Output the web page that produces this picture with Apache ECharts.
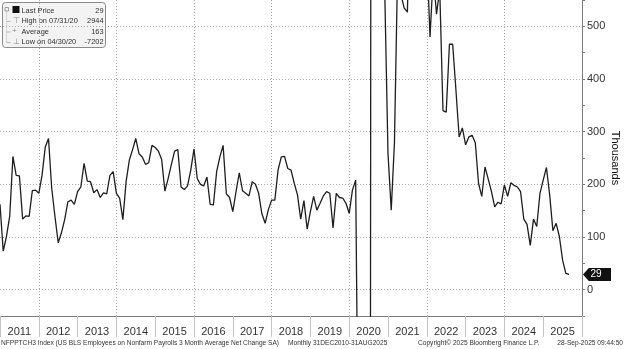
<!DOCTYPE html>
<html><head><meta charset="utf-8">
<script src="https://cdn.jsdelivr.net/npm/echarts@6/dist/echarts.min.js"></script>
<style>html,body{margin:0;padding:0;background:#fff}#c{width:624px;height:349px}</style>
</head><body><div id="c"></div>
<script>
// ---- Data: NFPPTCH3 monthly, 3-month average net change (thousands), Dec 2010 .. Aug 2025
const y2010 = [162]; // Dec 2010
const y2011 = [73,101,139,253,217,216,134,140,139,188,189,183];
const y2012 = [217,271,287,192,139,89,108,133,167,170,162,186];
const y2013 = [195,240,206,205,184,190,175,184,182,217,224,183];
const y2014 = [174,133,205,246,266,287,258,252,238,241,274,270];
const y2015 = [263,247,187,211,238,263,266,195,190,197,227,267];
const y2016 = [211,200,197,214,162,161,224,252,274,182,175,148];
const y2017 = [186,222,188,183,178,205,200,183,144,126,152,170];
const y2018 = [170,227,252,253,230,227,202,180,134,169,115,148];
const y2019 = [177,151,164,178,186,183,117,183,175,174,164,145];
const y2020 = [189,208,-450,-7202,-6300,-4300,2944,2600,1400,950,565,258];
const y2021 = [151,280,620,560,535,527,800,780,640,600,610,640];
const y2022 = [480,600,523,570,340,337,466,466,380,290,307,275];
const y2023 = [290,293,279,202,177,233,210,186,157,166,163,199];
const y2024 = [177,203,198,195,186,134,124,84,134,120,183,208];
const y2025 = [232,180,112,126,101,56,31,29];

const yearLabels = ['2011','2012','2013','2014','2015','2016','2017','2018','2019','2020','2021','2022','2023','2024','2025'];
const yLevels = [-50,0,50,100,150,200,250,300,350,400,450,500,550];
const yTickLabels = [0,100,200,300,400,500];
const statNames = ['Last Price','High on 07/31/20','Average','Low on 04/30/20'];
const statValues = ['29','2944','163','-7202'];
const footerTexts = [
  'NFPPTCH3 Index (US BLS Employees on Nonfarm Payrolls 3 Month Average Net Change SA)',
  'Monthly 31DEC2010-31AUG2025',
  'Copyright\u00A9 2025 Bloomberg Finance L.P.',
  '28-Sep-2025 09:44:50'
];

// month index: Dec 2010 = 0 (start of 2011 band), Aug 2025 = 176, end of 2025 band = 180
const allVals = [].concat(y2010,y2011,y2012,y2013,y2014,y2015,y2016,y2017,y2018,y2019,y2020,y2021,y2022,y2023,y2024,y2025);
const seriesData = allVals.map((v,i)=>[i, v]);
const last = seriesData[seriesData.length-1];
const xMin = 0, xMax = yearLabels.length*12;
const yMin = yLevels[0], yMax = yLevels[yLevels.length-1];

const FONT = 'Liberation Sans, Arial, sans-serif';
const LFONT = '7.4px ' + FONT;
const GRID = {type:[1,2], color:'#a8a8a8', width:1};
const chart = echarts.init(document.getElementById('c'), null, {renderer:'canvas'});

const rowY = [4.5, 15, 25.5, 36];
const legendTexts = [];
statNames.forEach((n,i)=>{
  legendTexts.push({type:'text', x:19, y:rowY[i], style:{text:n, font:LFONT, fill:'#333'}});
  legendTexts.push({type:'text', x:101, y:rowY[i], style:{text:statValues[i], font:LFONT, fill:'#333', align:'right'}});
});

chart.setOption({
  animation:false,
  backgroundColor:'#fff',
  textStyle:{fontFamily:FONT},
  grid:{left:0, right:42, top:0, bottom:33, containLabel:false, outerBoundsMode:'none'},
  xAxis:[
    {type:'value', min:xMin, max:xMax, show:false},
    {type:'category', data:yearLabels, boundaryGap:true, position:'bottom',
     axisLine:{show:true, onZero:false, lineStyle:{color:'#7a7a7a', width:1}},
     axisTick:{show:true, interval:0, length:21, lineStyle:{color:'#c4c4c4', width:1}},
     axisLabel:{show:true, interval:0, margin:10, fontSize:11, color:'#333', fontFamily:FONT},
     splitLine:{show:true, interval:(i)=> i%2===1, lineStyle:GRID}}
  ],
  yAxis:[
    {type:'value', min:yMin, max:yMax, show:false},
    {type:'category', data:yLevels, boundaryGap:false, position:'right',
     axisLine:{show:true, onZero:false, lineStyle:{color:'#7a7a7a', width:1}},
     axisTick:{show:true, interval:0, length:3, lineStyle:{color:'#7a7a7a'}},
     axisLabel:{show:true, interval:0, margin:5, fontSize:11, color:'#333', fontFamily:FONT,
       formatter:(v)=> yTickLabels.indexOf(Number(v))>=0 ? String(v) : ''},
     splitLine:{show:true, interval:(i)=> yTickLabels.indexOf(yLevels[i])>=0, lineStyle:GRID},
     name:'Thousands', nameLocation:'middle', nameRotate:-90, nameGap:28, nameMoveOverlap:false,
     nameTextStyle:{fontSize:11, color:'#111', fontFamily:FONT}}
  ],
  series:[{
    type:'line', xAxisIndex:0, yAxisIndex:0, data:seriesData, showSymbol:false, clip:true, z:3,
    lineStyle:{color:'#1e1e1e', width:1.3}, silent:true,
    markPoint:{
      symbol:'path://M0,6.5L6,0L29,0L29,13L6,13Z', symbolSize:[28,13], symbolOffset:[15,0],
      itemStyle:{color:'#111'},
      label:{show:true, position:'inside', color:'#fff', fontSize:10, fontFamily:FONT, offset:[-1,0],
        formatter:(p)=>String(p.value)},
      data:[{coord:[xMax, last[1]], value:last[1]}]
    }
  }],
  graphic:[
    {type:'group', left:2, top:2, children:[
      {type:'rect', shape:{x:0,y:0,width:103,height:45,r:3}, style:{fill:'#f3f3f3', stroke:'#8a8a8a', lineWidth:1}},
      {type:'rect', shape:{x:2.5,y:5,width:3.5,height:3.5}, style:{fill:'none', stroke:'#888', lineWidth:0.8}},
      {type:'line', shape:{x1:4.2,y1:9,x2:4.2,y2:40}, style:{stroke:'#aaa', lineWidth:0.8, lineDash:[1,1]}},
      {type:'line', shape:{x1:4.2,y1:19,x2:8,y2:19}, style:{stroke:'#aaa', lineWidth:0.8}},
      {type:'line', shape:{x1:4.2,y1:29.5,x2:8,y2:29.5}, style:{stroke:'#aaa', lineWidth:0.8}},
      {type:'line', shape:{x1:4.2,y1:40,x2:8,y2:40}, style:{stroke:'#aaa', lineWidth:0.8}},
      {type:'rect', shape:{x:10,y:3.5,width:7,height:7}, style:{fill:'#111'}},
      {type:'text', x:10, y:14, style:{text:'\u22A4', font:'8px '+FONT, fill:'#888'}},
      {type:'text', x:9.5, y:24.5, style:{text:'+', font:'8px '+FONT, fill:'#888'}},
      {type:'text', x:10, y:35, style:{text:'\u22A5', font:'8px '+FONT, fill:'#888'}}
    ].concat(legendTexts)},
    {type:'text', x:1, y:339.5, style:{text:footerTexts[0], font:'6.6px '+FONT, fill:'#333'}},
    {type:'text', x:288, y:339.5, style:{text:footerTexts[1], font:'6.6px '+FONT, fill:'#333'}},
    {type:'text', x:418, y:339.5, style:{text:footerTexts[2], font:'6.6px '+FONT, fill:'#333'}},
    {type:'text', x:623, y:339.5, style:{text:footerTexts[3], font:'6.6px '+FONT, fill:'#333', align:'right'}}
  ]
});
</script></body></html>
